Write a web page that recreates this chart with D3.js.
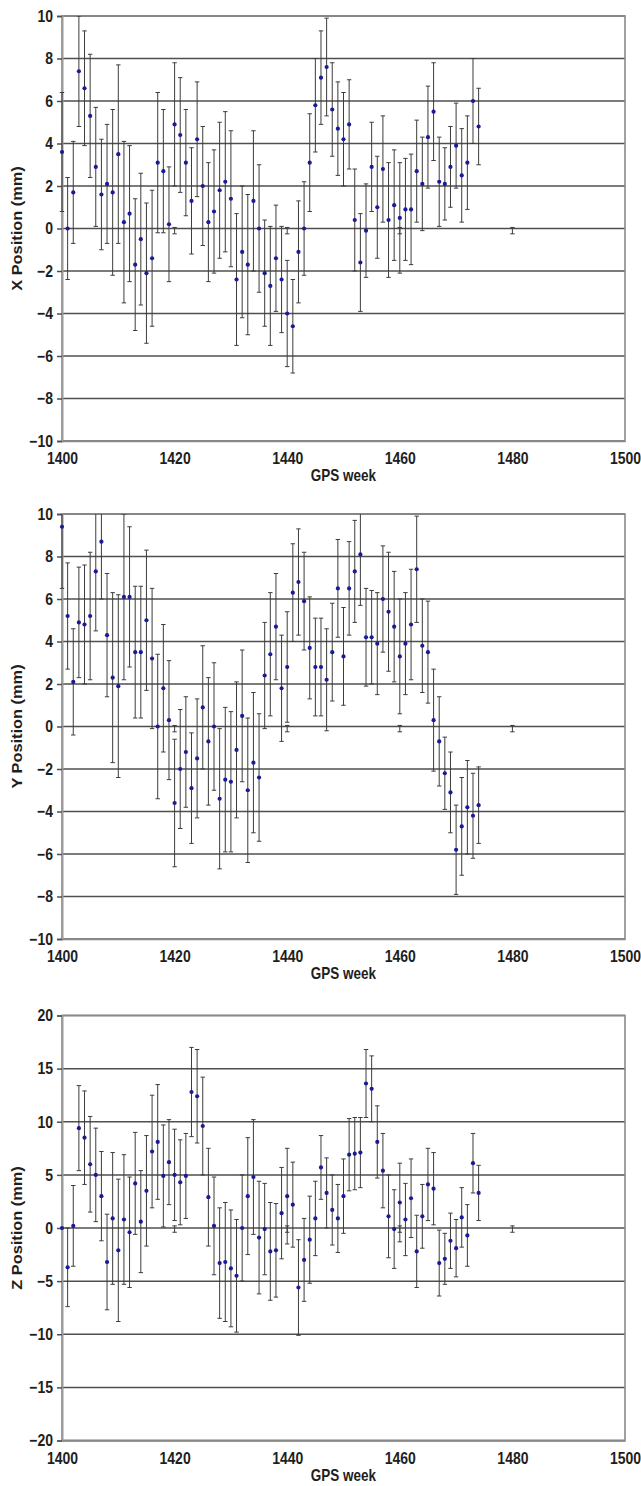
<!DOCTYPE html>
<html>
<head>
<meta charset="utf-8">
<script src="https://cdn.jsdelivr.net/npm/d3@7"></script>
<style>
  body { margin: 0; background: #fff; }
  svg { display: block; }
</style>
</head>
<body>
<div id="chart"></div>
<script>
// === GPS weekly position series (X / Y / Z, mm, with error bars) ===

const WEEK = [
  1400, 1401, 1402, 1403, 1404, 1405, 1406, 1407, 1408, 1409,
  1410, 1411, 1412, 1413, 1414, 1415, 1416, 1417, 1418, 1419,
  1420, 1421, 1422, 1423, 1424, 1425, 1426, 1427, 1428, 1429,
  1430, 1431, 1432, 1433, 1434, 1435, 1436, 1437, 1438, 1439,
  1440, 1441, 1442, 1443, 1444, 1445, 1446, 1447, 1448, 1449,
  1450, 1451, 1452, 1453, 1454, 1455, 1456, 1457, 1458, 1459,
  1460, 1461, 1462, 1463, 1464, 1465, 1466, 1467, 1468, 1469,
  1470, 1471, 1472, 1473, 1474
];

const X_POS = [
  3.6, 0.0, 1.7, 7.4, 6.6, 5.3, 2.9, 1.6, 2.1, 1.7,
  3.5, 0.3, 0.7, -1.7, -0.5, -2.1, -1.4, 3.1, 2.7, 0.2,
  4.9, 4.4, 3.1, 1.3, 4.2, 2.0, 0.3, 0.8, 1.8, 2.2,
  1.4, -2.4, -1.1, -1.7, 1.3, 0.0, -2.1, -2.7, -1.4, -2.4,
  -4.0, -4.6, -1.1, 0.0, 3.1, 5.8, 7.1, 7.6, 5.6, 4.7,
  4.2, 4.9, 0.4, -1.6, -0.1, 2.9, 1.0, 2.8, 0.4, 1.1,
  0.5, 0.9, 0.9, 2.7, 2.1, 4.3, 5.5, 2.2, 2.1, 2.9,
  3.9, 2.5, 3.1, 6.0, 4.8
];
const X_ERR = [
  2.8, 2.4, 2.4, 2.6, 2.7, 2.9, 2.8, 2.6, 2.8, 3.9,
  4.2, 3.8, 3.2, 3.1, 3.1, 3.3, 3.2, 3.3, 2.9, 2.7,
  2.9, 2.7, 2.5, 2.5, 2.7, 2.8, 2.8, 2.9, 3.2, 3.3,
  3.2, 3.1, 3.1, 3.3, 3.3, 3.0, 2.5, 2.8, 2.5, 2.5,
  2.5, 2.2, 2.4, 2.2, 2.3, 2.2, 2.2, 2.3, 2.2, 2.2,
  2.2, 2.1, 2.4, 2.3, 2.2, 2.1, 2.4, 2.5, 2.7, 2.6,
  2.6, 2.4, 2.6, 2.4, 2.2, 2.4, 2.3, 2.1, 1.7, 1.9,
  2.0, 2.2, 2.2, 2.0, 1.8
];

const Y_POS = [
  9.4, 5.2, 2.1, 4.9, 4.8, 5.2, 7.3, 8.7, 4.3, 2.3,
  1.9, 6.1, 6.1, 3.5, 3.5, 5.0, 3.2, 0.0, 1.8, 0.3,
  -3.6, -2.0, -1.2, -2.9, -1.5, 0.9, -0.7, 0.0, -3.4, -2.5,
  -2.6, -1.1, 0.5, -3.0, -1.7, -2.4, 2.4, 3.4, 4.7, 1.8,
  2.8, 6.3, 6.8, 5.9, 3.7, 2.8, 2.8, 2.2, 3.5, 6.5,
  3.3, 6.5, 7.3, 8.1, 4.2, 4.2, 3.9, 6.0, 5.4, 4.7,
  3.3, 3.9, 4.8, 7.4, 3.8, 3.5, 0.3, -0.7, -2.2, -3.1,
  -5.8, -4.7, -3.8, -4.2, -3.7
];
const Y_ERR = [
  2.9, 2.5, 2.5, 2.6, 2.8, 3.0, 2.8, 2.7, 2.9, 4.0,
  4.3, 3.9, 3.3, 3.1, 3.1, 3.3, 3.3, 3.4, 3.0, 2.8,
  3.0, 2.8, 2.6, 2.6, 2.8, 2.9, 3.0, 3.0, 3.3, 3.4,
  3.3, 3.2, 3.1, 3.4, 3.3, 3.0, 2.5, 2.9, 2.5, 2.5,
  2.6, 2.3, 2.5, 2.3, 2.4, 2.3, 2.3, 2.4, 2.3, 2.3,
  2.3, 2.2, 2.4, 2.4, 2.3, 2.2, 2.4, 2.5, 2.8, 2.6,
  2.7, 2.4, 2.6, 2.5, 2.2, 2.4, 2.4, 2.1, 1.7, 1.9,
  2.1, 2.3, 2.2, 2.0, 1.8
];

const Z_POS = [
  0.0, -3.7, 0.2, 9.4, 8.5, 6.0, 5.0, 3.0, -3.2, 0.9,
  -2.1, 0.8, -0.4, 4.2, 0.6, 3.5, 7.2, 8.1, 4.9, 6.2,
  5.0, 4.3, 4.9, 12.8, 12.4, 9.6, 2.9, 0.2, -3.3, -3.2,
  -3.8, -4.5, 0.0, 3.0, 4.8, -0.9, -0.1, -2.2, -2.1, 1.4,
  3.0, 2.2, -5.6, -3.0, -1.1, 0.9, 5.7, 3.3, 1.7, 0.9,
  3.0, 6.9, 7.0, 7.1, 13.6, 13.1, 8.1, 5.4, 1.1, -0.1,
  2.4, 0.8, 2.8, -2.2, 1.1, 4.1, 3.7, -3.3, -2.9, -1.2,
  -1.9, 1.0, -0.7, 6.1, 3.3
];
const Z_ERR = [
  0.0, 3.7, 3.8, 4.0, 4.4, 4.5, 4.4, 4.2, 4.5, 6.2,
  6.7, 6.1, 5.2, 4.8, 4.8, 5.2, 5.3, 5.4, 4.8, 4.0,
  4.3, 4.0, 4.0, 4.2, 4.4, 4.6, 4.6, 4.6, 5.2, 5.6,
  5.5, 5.3, 5.0, 5.5, 5.4, 5.3, 4.3, 4.6, 4.4, 4.3,
  4.5, 4.0, 4.5, 3.9, 4.1, 3.5, 3.0, 3.3, 3.3, 3.2,
  3.5, 3.4, 3.4, 3.3, 3.2, 3.1, 3.4, 3.5, 3.9, 3.7,
  3.7, 3.4, 3.7, 3.4, 3.0, 3.4, 3.4, 3.1, 2.4, 2.6,
  2.7, 2.8, 2.9, 2.8, 2.6
];

// tiny stray error bars sitting on the zero line
const STUB_WEEK = [1420, 1440, 1460, 1480];
const STUB_POS = [-0.1, -0.1, -0.1, -0.1];
const STUB_ERR_XY = [0.15, 0.15, 0.15, 0.15];
const STUB_ERR_Z = [0.3, 0.3, 0.3, 0.3];

const X_TICKS = [1400, 1420, 1440, 1460, 1480, 1500];
const XY_TICKS = [-10, -8, -6, -4, -2, 0, 2, 4, 6, 8, 10];
const Z_TICKS = [-20, -15, -10, -5, 0, 5, 10, 15, 20];

const AXIS_TITLES = ['X Position (mm)', 'Y Position (mm)', 'Z Position (mm)'];
const X_TITLE = 'GPS week';

// === Layout ===
const W = 641, H = 1486;
const PLOT = { left: 62, width: 563, height: 425 };
const PANEL_TOPS = [16, 514, 1015.5];
const STRETCH = 1.17; // source picture is stretched vertically
const FONT = '"Liberation Sans", Arial, Helvetica, sans-serif';
const CAP = 2.2;

const panels = [
  { title: AXIS_TITLES[0], pos: X_POS, err: X_ERR, ticks: XY_TICKS, stubErr: STUB_ERR_XY },
  { title: AXIS_TITLES[1], pos: Y_POS, err: Y_ERR, ticks: XY_TICKS, stubErr: STUB_ERR_XY },
  { title: AXIS_TITLES[2], pos: Z_POS, err: Z_ERR, ticks: Z_TICKS, stubErr: STUB_ERR_Z }
];

const svg = d3.select('#chart').append('svg')
  .attr('width', W).attr('height', H)
  .style('font-family', FONT);

const x = d3.scaleLinear().domain(d3.extent(X_TICKS)).range([0, PLOT.width]);

function drawBars(g, y, weeks, pos, err) {
  const rows = weeks.map((w, i) => ({ w, v: pos[i], e: err[i] })).filter(d => d.e > 0);
  const bars = g.append('g').attr('class', 'errbars')
    .attr('stroke', '#3c3c3c').attr('stroke-width', 1);
  bars.selectAll('line.stem').data(rows).join('line')
    .attr('class', 'stem')
    .attr('x1', d => x(d.w)).attr('x2', d => x(d.w))
    .attr('y1', d => y(d.v + d.e)).attr('y2', d => y(d.v - d.e));
  bars.selectAll('line.cap-hi').data(rows).join('line')
    .attr('class', 'cap-hi')
    .attr('x1', d => x(d.w) - CAP).attr('x2', d => x(d.w) + CAP)
    .attr('y1', d => y(d.v + d.e)).attr('y2', d => y(d.v + d.e));
  bars.selectAll('line.cap-lo').data(rows).join('line')
    .attr('class', 'cap-lo')
    .attr('x1', d => x(d.w) - CAP).attr('x2', d => x(d.w) + CAP)
    .attr('y1', d => y(d.v - d.e)).attr('y2', d => y(d.v - d.e));
}

panels.forEach((p, i) => {
  const g = svg.append('g').attr('transform', `translate(${PLOT.left},${PANEL_TOPS[i]})`);
  const y = d3.scaleLinear().domain(d3.extent(p.ticks)).range([PLOT.height, 0]);

  const clipId = `clip-${i}`;
  g.append('clipPath').attr('id', clipId)
    .append('rect').attr('x', -4).attr('y', 0)
    .attr('width', PLOT.width + 8).attr('height', PLOT.height);

  // horizontal gridlines
  g.append('g').selectAll('line').data(p.ticks).join('line')
    .attr('x1', 0).attr('x2', PLOT.width)
    .attr('y1', d => y(d)).attr('y2', d => y(d))
    .attr('stroke', '#4f4f4f').attr('stroke-width', 1.5);

  // plot frame
  g.append('rect')
    .attr('x', 0).attr('y', 0)
    .attr('width', PLOT.width).attr('height', PLOT.height)
    .attr('fill', 'none').attr('stroke', '#8a8a8a').attr('stroke-width', 1.6);

  // y axis
  const ya = g.append('g')
    .call(d3.axisLeft(y).tickValues(p.ticks).tickSize(5).tickPadding(4));
  ya.select('.domain').attr('stroke', '#9a9a9a').attr('stroke-width', 2);
  ya.selectAll('.tick line').attr('stroke', '#4f4f4f').attr('stroke-width', 1.5);
  ya.selectAll('.tick text')
    .attr('fill', '#1e1e1e').attr('font-size', '14px').attr('font-weight', 'bold')
    .attr('font-family', FONT)
    .attr('transform', `scale(1,${STRETCH})`);

  // x axis
  const xa = g.append('g')
    .attr('transform', `translate(0,${PLOT.height})`)
    .call(d3.axisBottom(x).tickValues(X_TICKS).tickSize(0).tickPadding(10).tickFormat(d3.format('d')));
  xa.select('.domain').attr('stroke', '#8a8a8a').attr('stroke-width', 1.6);
  xa.selectAll('.tick text')
    .attr('fill', '#1e1e1e').attr('font-size', '14px').attr('font-weight', 'bold')
    .attr('font-family', FONT)
    .attr('transform', `scale(1,${STRETCH})`);

  // titles
  g.append('text')
    .attr('transform', `translate(${PLOT.width / 2},${PLOT.height + 40}) scale(1,${STRETCH})`)
    .attr('text-anchor', 'middle')
    .attr('fill', '#1e1e1e').attr('font-size', '13.5px').attr('font-weight', 'bold')
    .text(X_TITLE);

  g.append('text')
    .attr('transform', `translate(-40,${PLOT.height / 2}) scale(1,${STRETCH}) rotate(-90)`)
    .attr('text-anchor', 'middle')
    .attr('fill', '#1e1e1e').attr('font-size', '14px').attr('font-weight', 'bold')
    .text(p.title);

  // data
  const data = g.append('g').attr('clip-path', `url(#${clipId})`);
  drawBars(data, y, WEEK, p.pos, p.err);
  drawBars(data, y, STUB_WEEK, STUB_POS, p.stubErr);

  data.append('g').selectAll('circle').data(WEEK).join('circle')
    .attr('cx', d => x(d))
    .attr('cy', (d, k) => y(p.pos[k]))
    .attr('r', 2.1)
    .attr('fill', '#1a1a96');
});
</script>
</body>
</html>
